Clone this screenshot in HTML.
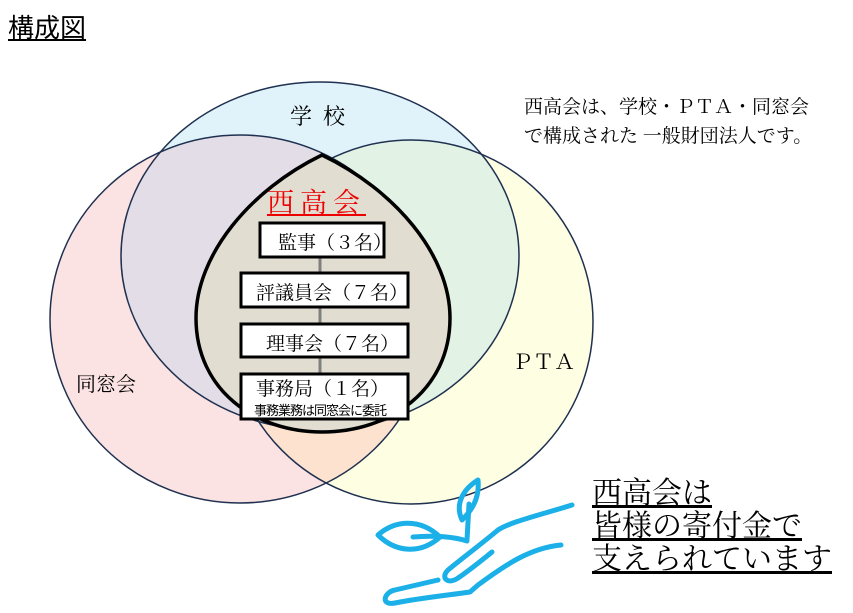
<!DOCTYPE html>
<html><head><meta charset="utf-8"><style>
body{margin:0;width:853px;height:613px;background:#fff;overflow:hidden;position:relative;font-family:"Liberation Serif","Noto Serif CJK SC","Noto Sans CJK JP",serif;}
.t{position:absolute;white-space:nowrap;color:#000;}
</style></head><body>
<svg width="853" height="613" style="position:absolute;left:0;top:0">
<defs>
<clipPath id="cb"><ellipse cx="320" cy="256" rx="199" ry="174"/></clipPath>
<clipPath id="cp"><ellipse cx="240" cy="319" rx="190" ry="184"/></clipPath>
<clipPath id="cy"><ellipse cx="411" cy="322" rx="182" ry="182"/></clipPath>
</defs>
<ellipse cx="240" cy="319" rx="190" ry="184" fill="#fbe3e3"/>
<ellipse cx="411" cy="322" rx="182" ry="182" fill="#fefee2"/>
<ellipse cx="320" cy="256" rx="199" ry="174" fill="#e0f3fa"/>
<ellipse cx="411" cy="322" rx="182" ry="182" fill="#fde3cf" clip-path="url(#cp)"/>
<g clip-path="url(#cb)">
<ellipse cx="240" cy="319" rx="190" ry="184" fill="#e2dde6"/>
<ellipse cx="411" cy="322" rx="182" ry="182" fill="#e2f3e6"/>
</g>
<ellipse cx="240" cy="319" rx="190" ry="184" fill="none" stroke="#1f3050" stroke-width="1.5"/>
<ellipse cx="320" cy="256" rx="199" ry="174" fill="none" stroke="#1f3050" stroke-width="1.5"/>
<ellipse cx="411" cy="322" rx="182" ry="182" fill="none" stroke="#1f3050" stroke-width="1.5"/>
<path d="M322,155 C250,190 196,255 196,318 C196,390 255,432 322,432 C390,432 450,390 450,318 C450,255 395,190 322,155Z" fill="#e1ddd0" stroke="#000" stroke-width="3.5"/>
<line x1="320" y1="258" x2="320" y2="373" stroke="#7f7f7f" stroke-width="3"/>
<rect x="260" y="223" width="124" height="34" fill="#fff" stroke="#000" stroke-width="3"/>
<rect x="241" y="273" width="167" height="34" fill="#fff" stroke="#000" stroke-width="3"/>
<rect x="241" y="324" width="167" height="33" fill="#fff" stroke="#000" stroke-width="3"/>
<rect x="241" y="374" width="167" height="45" fill="#fff" stroke="#000" stroke-width="3"/>
<g fill="none" stroke="#1bb0e8" stroke-width="5" stroke-linecap="round" stroke-linejoin="round">
<path d="M478,480 C462,490 455,505 462,520 C470,512 480,500 478,480Z"/>
<path d="M469,504 L467,540"/>
<path d="M378,535 C395,520 420,518 440,537 C420,555 395,552 378,535Z"/>
<path d="M413,537 C435,535 455,537 467,541"/>
<path d="M572,505 C540,515 510,522 498,530 C480,545 460,560 448,570 C440,578 448,585 458,578 C470,570 482,560 492,552"/>
<path d="M561,545 C530,548 505,565 478,585 L470,592 C450,595 420,598 395,603 C380,606 384,592 395,590 L438,580"/>
</g>
</svg>
<div class="t" style="left:8px;top:8px;font-size:26px;text-decoration:underline;font-family:'Liberation Sans','Noto Sans CJK JP',sans-serif;">構成図</div>
<div class="t" style="left:290px;top:100px;font-size:22px;">学&nbsp;&nbsp;校</div>
<div class="t" style="left:512px;top:346px;font-size:21px;">ＰＴＡ</div>
<div class="t" style="left:76px;top:368px;font-size:20px;">同窓会</div>
<div class="t" style="left:524px;top:93px;font-size:19px;line-height:29px;">西高会は、学校・ＰＴＡ・同窓会<br>で構成された 一般財団法人です。</div>
<div class="t" style="left:267px;top:181px;font-size:27px;color:#e00;text-decoration:underline;letter-spacing:6px;">西高会</div>
<div class="t" style="left:278px;top:228px;font-size:19px;">監事（３名）</div>
<div class="t" style="left:256px;top:278px;font-size:19px;">評議員会（７名）</div>
<div class="t" style="left:266px;top:329px;font-size:19px;">理事会（７名）</div>
<div class="t" style="left:256px;top:374px;font-size:19px;">事務局（１名）</div>
<div class="t" style="left:254px;top:400px;font-size:13px;font-family:'Liberation Sans','Noto Sans CJK JP',sans-serif;letter-spacing:-1px;">事務業務は同窓会に委託</div>
<div class="t" style="left:592px;top:477px;font-size:30px;line-height:33px;">
<span style="text-decoration:underline">西高会は</span><br><span style="text-decoration:underline">皆様の寄付金で</span><br><span style="text-decoration:underline">支えられています</span></div>
</body></html>
